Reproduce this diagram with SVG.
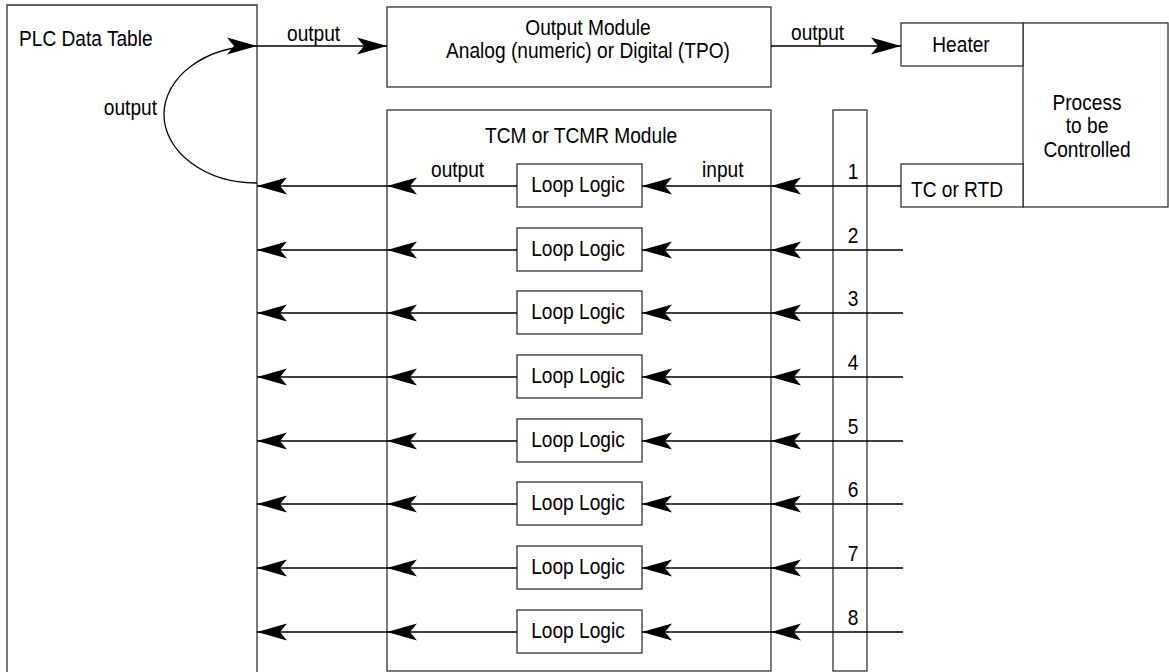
<svg xmlns="http://www.w3.org/2000/svg" width="1169" height="672" viewBox="0 0 1169 672">
<defs>
<marker id="ah" markerUnits="userSpaceOnUse" markerWidth="34" markerHeight="22" viewBox="-32 -11 34 22" refX="0" refY="0" orient="auto" overflow="visible">
<path d="M0,0 Q-14,-4 -30,-8.5 L-23,0 L-30,8.5 Q-14,4 0,0 Z" fill="#000"/>
</marker>
<style>
.box{fill:#fff;stroke:#333;stroke-width:1.3}
.ln{fill:none;stroke:#000;stroke-width:1.3;marker-end:url(#ah)}
text{font-family:"Liberation Sans",Arial,sans-serif;font-size:22px;fill:#000}
.c{text-anchor:middle}
.r{text-anchor:end}
</style>
</defs>
<rect width="1169" height="672" fill="#fff"/>

<g id="plc">
<path class="box" d="M7,680 L7,5 L257,5 L257,680"/>
<text transform="translate(19,46) scale(0.87,1)">PLC Data Table</text>
</g>

<g id="output-module">
<rect class="box" x="387" y="7" width="384" height="80"/>
<text class="c" transform="translate(588,35) scale(0.87,1)">Output Module</text>
<text class="c" transform="translate(588,58) scale(0.87,1)">Analog (numeric) or Digital (TPO)</text>
</g>

<g id="process">
<rect class="box" x="1023" y="23" width="145" height="184"/>
<text class="c" transform="translate(1087,110) scale(0.87,1)">Process</text>
<text class="c" transform="translate(1087,133) scale(0.87,1)">to be</text>
<text class="c" transform="translate(1087,157) scale(0.87,1)">Controlled</text>
</g>

<g id="heater">
<rect class="box" x="901" y="23" width="122" height="43"/>
<text class="c" transform="translate(961,52) scale(0.87,1)">Heater</text>
</g>

<g id="tc-rtd">
<rect class="box" x="901" y="164" width="122" height="43"/>
<text class="c" transform="translate(957,197) scale(0.87,1)">TC or RTD</text>
</g>

<g id="tcm-module">
<rect class="box" x="387" y="110" width="384" height="561"/>
<text class="c" transform="translate(581,143) scale(0.87,1)">TCM or TCMR Module</text>
</g>

<g id="terminal-bar">
<rect class="box" x="833" y="110" width="34" height="561"/>
<text class="c" transform="translate(853,179) scale(0.87,1)">1</text>
<text class="c" transform="translate(853,243) scale(0.87,1)">2</text>
<text class="c" transform="translate(853,306) scale(0.87,1)">3</text>
<text class="c" transform="translate(853,370) scale(0.87,1)">4</text>
<text class="c" transform="translate(853,434) scale(0.87,1)">5</text>
<text class="c" transform="translate(853,497) scale(0.87,1)">6</text>
<text class="c" transform="translate(853,561) scale(0.87,1)">7</text>
<text class="c" transform="translate(853,625) scale(0.87,1)">8</text>
</g>

<g id="loop-logic-1"><rect class="box" x="517" y="164" width="125" height="43"/><text class="c" transform="translate(578,192) scale(0.87,1)">Loop Logic</text></g>
<g id="loop-logic-2"><rect class="box" x="517" y="228" width="125" height="43"/><text class="c" transform="translate(578,256) scale(0.87,1)">Loop Logic</text></g>
<g id="loop-logic-3"><rect class="box" x="517" y="291" width="125" height="43"/><text class="c" transform="translate(578,319) scale(0.87,1)">Loop Logic</text></g>
<g id="loop-logic-4"><rect class="box" x="517" y="355" width="125" height="43"/><text class="c" transform="translate(578,383) scale(0.87,1)">Loop Logic</text></g>
<g id="loop-logic-5"><rect class="box" x="517" y="419" width="125" height="43"/><text class="c" transform="translate(578,447) scale(0.87,1)">Loop Logic</text></g>
<g id="loop-logic-6"><rect class="box" x="517" y="482" width="125" height="43"/><text class="c" transform="translate(578,510) scale(0.87,1)">Loop Logic</text></g>
<g id="loop-logic-7"><rect class="box" x="517" y="546" width="125" height="43"/><text class="c" transform="translate(578,574) scale(0.87,1)">Loop Logic</text></g>
<g id="loop-logic-8"><rect class="box" x="517" y="610" width="125" height="43"/><text class="c" transform="translate(578,638) scale(0.87,1)">Loop Logic</text></g>

<g id="connectors">
<path class="ln" d="M257,46 L387,46"/>
<text transform="translate(287,41) scale(0.87,1)">output</text>
<path class="ln" d="M771,46 L901,46"/>
<text transform="translate(791,40) scale(0.87,1)">output</text>
<path class="ln" d="M257,183 A93,68.5 0 0 1 257,46"/>
<text class="r" transform="translate(157,115) scale(0.87,1)">output</text>
<text transform="translate(431,177) scale(0.87,1)">output</text>
<text transform="translate(702,177) scale(0.87,1)">input</text>

<path class="ln" d="M901,186 L771,186"/><path class="ln" d="M771,186 L642,186"/><path class="ln" d="M517,186 L387,186"/><path class="ln" d="M387,186 L257,186"/>
<path class="ln" d="M903,250 L771,250"/><path class="ln" d="M771,250 L642,250"/><path class="ln" d="M517,250 L387,250"/><path class="ln" d="M387,250 L257,250"/>
<path class="ln" d="M903,313 L771,313"/><path class="ln" d="M771,313 L642,313"/><path class="ln" d="M517,313 L387,313"/><path class="ln" d="M387,313 L257,313"/>
<path class="ln" d="M903,377 L771,377"/><path class="ln" d="M771,377 L642,377"/><path class="ln" d="M517,377 L387,377"/><path class="ln" d="M387,377 L257,377"/>
<path class="ln" d="M903,441 L771,441"/><path class="ln" d="M771,441 L642,441"/><path class="ln" d="M517,441 L387,441"/><path class="ln" d="M387,441 L257,441"/>
<path class="ln" d="M903,504 L771,504"/><path class="ln" d="M771,504 L642,504"/><path class="ln" d="M517,504 L387,504"/><path class="ln" d="M387,504 L257,504"/>
<path class="ln" d="M903,568 L771,568"/><path class="ln" d="M771,568 L642,568"/><path class="ln" d="M517,568 L387,568"/><path class="ln" d="M387,568 L257,568"/>
<path class="ln" d="M903,632 L771,632"/><path class="ln" d="M771,632 L642,632"/><path class="ln" d="M517,632 L387,632"/><path class="ln" d="M387,632 L257,632"/>
</g>
</svg>
